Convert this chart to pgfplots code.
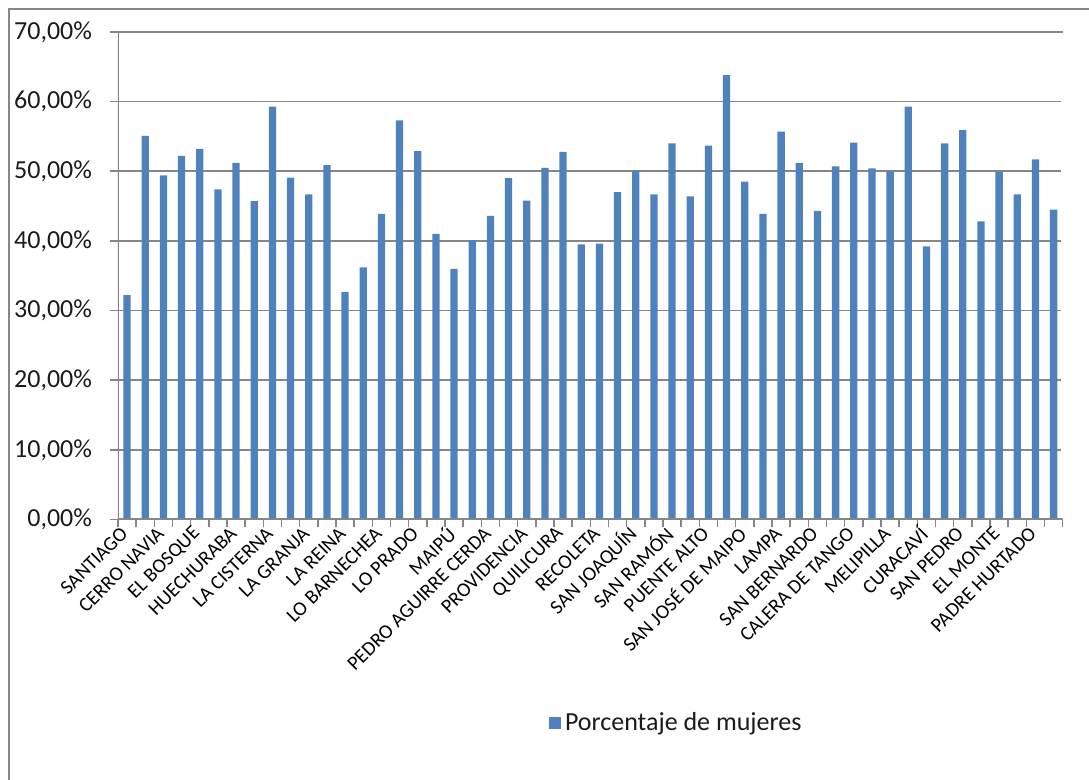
\documentclass[border=0pt]{standalone}
\usepackage{fontspec}
\setmainfont{Carlito}
\usepackage{pgfplots}
\pgfplotsset{compat=1.18}
\usepackage{pgfplotstable}
\definecolor{barblue}{HTML}{4F81BD}
\definecolor{axgray}{HTML}{868686}
\definecolor{txt}{HTML}{1A1A1A}
\pgfplotstableread{
x y
1 32.2
2 55.1
3 49.4
4 52.2
5 53.2
6 47.4
7 51.2
8 45.7
9 59.3
10 49.1
11 46.7
12 50.9
13 32.7
14 36.2
15 43.9
16 57.3
17 52.9
18 41.0
19 36.0
20 40.1
21 43.6
22 49.0
23 45.8
24 50.5
25 52.8
26 39.5
27 39.6
28 47.0
29 50.1
30 46.7
31 54.0
32 46.4
33 53.7
34 63.8
35 48.5
36 43.9
37 55.7
38 51.2
39 44.3
40 50.7
41 54.1
42 50.4
43 50.0
44 59.3
45 39.2
46 54.0
47 55.9
48 42.8
49 49.9
50 46.7
51 51.7
52 44.5
}\datatable
\begin{document}
\begin{tikzpicture}
\useasboundingbox (0,0) rectangle (544.5pt,390pt);
\draw[axgray, line width=0.7pt] (4.5pt,-5pt) -- (4.5pt,385.5pt) -- (550pt,385.5pt);
\begin{axis}[
  name=ax,
  at={(59pt,130.25pt)}, anchor=south west,
  scale only axis, width=472.35pt, height=243.75pt,
  xmin=0.5, xmax=52.5, ymin=0, ymax=70,
  axis line style={draw=none},
  xtick pos=bottom, ytick pos=left,
  ymajorgrids=true, xmajorgrids=false, xminorgrids=false,
  grid style={axgray, line width=0.8pt},
  tick align=outside,
  major tick length=4pt,
  tick style={axgray, line width=0.8pt},
  ytick={0,10,...,70},
  yticklabels={{0,00\%},{10,00\%},{20,00\%},{30,00\%},{40,00\%},{50,00\%},{60,00\%},{70,00\%}},
  yticklabel style={font=\fontsize{13}{16}\selectfont, text=txt, xshift=-5.5pt},
  xtick={0.5,1.5,...,52.5},
  xticklabels={},
  extra x ticks={1,3,...,51},
  extra x tick labels={SANTIAGO,CERRO NAVIA,EL BOSQUE,HUECHURABA,LA CISTERNA,LA GRANJA,LA REINA,LO BARNECHEA,LO PRADO,MAIPÚ,PEDRO AGUIRRE CERDA,PROVIDENCIA,QUILICURA,RECOLETA,SAN JOAQUÍN,SAN RAMÓN,PUENTE ALTO,SAN JOSÉ DE MAIPO,LAMPA,SAN BERNARDO,CALERA DE TANGO,MELIPILLA,CURACAVÍ,SAN PEDRO,EL MONTE,PADRE HURTADO},
  extra x tick style={xmajorgrids=false, tick style={draw=none}},
  xticklabel style={rotate=45, anchor=east, font=\fontsize{10}{12}\selectfont, text=black, xshift=1.5pt},
  legend style={at={(0.592,-0.417)}, anchor=center, draw=none, fill=none,
    font=\fontsize{13}{15}\selectfont, text=txt},
  legend image code/.code={\fill[barblue] (0pt,-3pt) rectangle (6pt,3pt);},
]
\addplot[ybar, bar width=3.65pt, fill=barblue, draw=none] table[x=x,y=y]{\datatable};
\addlegendentry{Porcentaje de mujeres}
\draw[axgray, line width=1pt] (axis cs:0.5,70) -- (axis cs:0.5,0) -- (axis cs:52.5,0);
\end{axis}
\draw[white, line width=1.2pt] ([yshift=0.9pt]ax.south east) -- ([yshift=-0.5pt]ax.north east);
\end{tikzpicture}
\end{document}
